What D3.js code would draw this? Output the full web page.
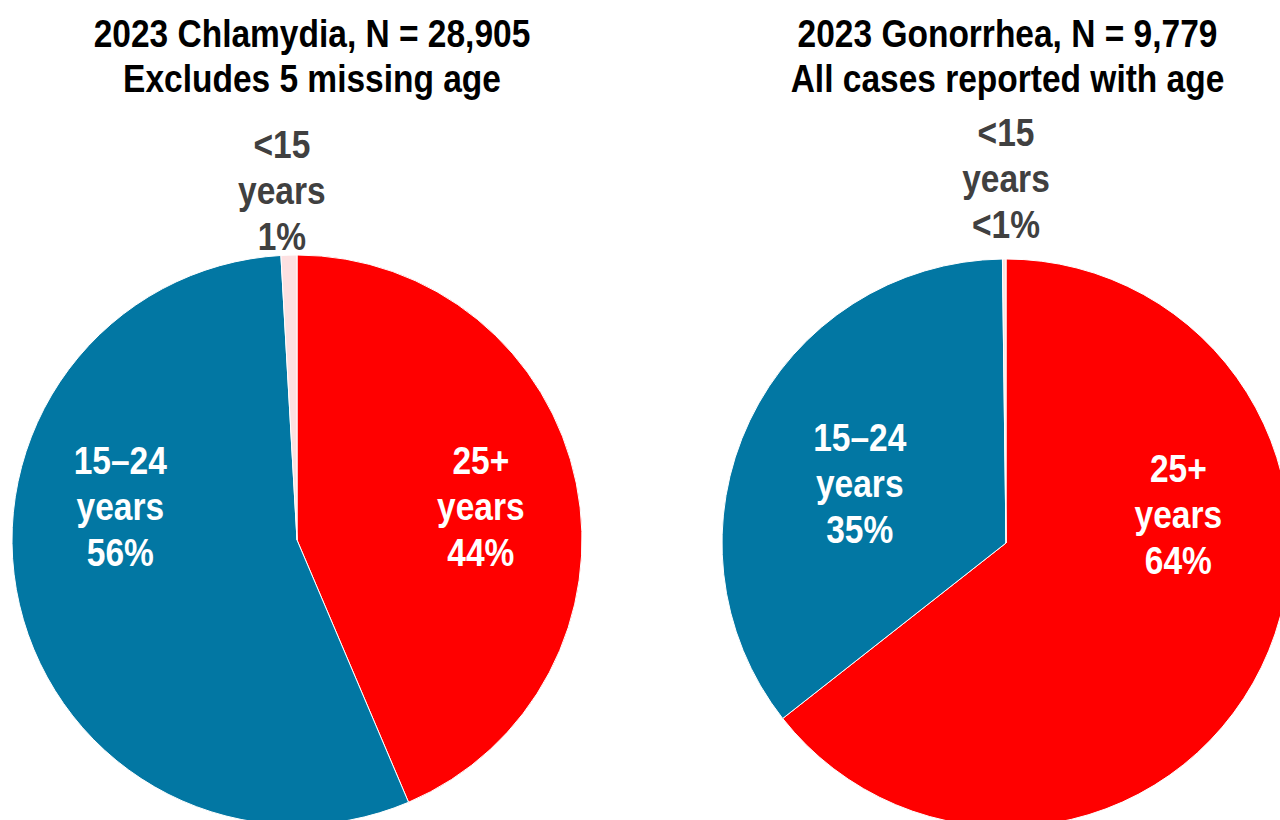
<!DOCTYPE html>
<html>
<head>
<meta charset="utf-8">
<script src="https://cdn.jsdelivr.net/npm/d3@7"></script>
<style>
    html, body { margin: 0; padding: 0; background: #fff; overflow: hidden; }
    svg { display: block; font-family: "Liberation Sans Narrow", "Arial Narrow", "Liberation Sans", Arial, sans-serif; font-weight: bold; }
</style>
</head>
<body>
<div id="chart"></div>
<script>
// Age groups, in clockwise order starting at 12 o'clock
var ageGroups = ["25+", "15\u201324", "<15"];

// Percent share of cases by age group
var chlamydiaShare = [43.6, 55.5, 0.9];
var gonorrheaShare = [64.4, 35.4, 0.2];

// Rounded labels as printed on the chart
var chlamydiaLabels = ["44%", "56%", "1%"];
var gonorrheaLabels = ["64%", "35%", "<1%"];

var chlamydiaTitle = ["2023 Chlamydia, N = 28,905", "Excludes 5 missing age"];
var gonorrheaTitle = ["2023 Gonorrhea, N = 9,779", "All cases reported with age"];

var width = 1280, height = 820;
var fontSize = 38.5;
// no narrow font installed, so squeeze the regular one horizontally
var narrow = 0.87;

var color = d3.scaleOrdinal()
    .domain(ageGroups)
    .range(["#ff0000", "#0277a3", "#fde0e1"]);

// label text colour: white inside slices, dark grey outside
var labelColor = d3.scaleOrdinal()
    .domain(ageGroups)
    .range(["#ffffff", "#ffffff", "#404040"]);

var svg = d3.select("#chart").append("svg")
    .attr("width", width)
    .attr("height", height);

// Manual label placement as fraction of radius (the labels were hand-placed in the original)
var panels = [
    {
        share: chlamydiaShare, labels: chlamydiaLabels, title: chlamydiaTitle,
        cx: 297, cy: 540, r: 285, titleX: 312,
        labelPos: {"25+": [0.645, -0.115], "15\u201324": [-0.62, -0.115], "<15": [-0.053, -1.225]}
    },
    {
        share: gonorrheaShare, labels: gonorrheaLabels, title: gonorrheaTitle,
        cx: 1006, cy: 543, r: 284, titleX: 1007.5,
        labelPos: {"25+": [0.607, -0.10], "15\u201324": [-0.515, -0.208], "<15": [0, -1.28]}
    }
];

var pie = d3.pie().sort(null).value(function (d) { return d.value; });

panels.forEach(function (p) {
    var data = ageGroups.map(function (g, i) {
        return {group: g, value: p.share[i], label: p.labels[i]};
    });
    var arc = d3.arc().innerRadius(0).outerRadius(p.r);

    var g = svg.append("g")
        .attr("transform", "translate(" + p.cx + "," + p.cy + ")");

    g.selectAll("path.slice")
        .data(pie(data))
        .enter().append("path")
        .attr("class", "slice")
        .attr("d", arc)
        .attr("fill", function (d) { return color(d.data.group); })
        .attr("stroke", "#ffffff")
        .attr("stroke-width", 1);

    var labels = g.selectAll("text.label")
        .data(pie(data))
        .enter().append("text")
        .attr("class", "label")
        .attr("text-anchor", "middle")
        .attr("font-size", fontSize)
        .attr("fill", function (d) { return labelColor(d.data.group); })
        .attr("transform", function (d) {
            var pos = p.labelPos[d.data.group];
            return "translate(" + (pos[0] * p.r) + "," + (pos[1] * p.r) + ") scale(" + narrow + ",1)";
        });

    labels.each(function (d) {
        var lines = [d.data.group, "years", d.data.label];
        d3.select(this).selectAll("tspan")
            .data(lines)
            .enter().append("tspan")
            .attr("x", 0)
            .attr("y", function (t, i) { return (i - 1) * 46 + 13; })
            .text(function (t) { return t; });
    });

    svg.append("text")
        .attr("text-anchor", "middle")
        .attr("font-size", fontSize)
        .attr("fill", "#000")
        .attr("transform", "translate(" + p.titleX + ",0) scale(" + narrow + ",1)")
        .selectAll("tspan")
        .data(p.title)
        .enter().append("tspan")
        .attr("x", 0)
        .attr("y", function (t, i) { return 47 + i * 45; })
        .text(function (t) { return t; });
});
</script>
</body>
</html>
